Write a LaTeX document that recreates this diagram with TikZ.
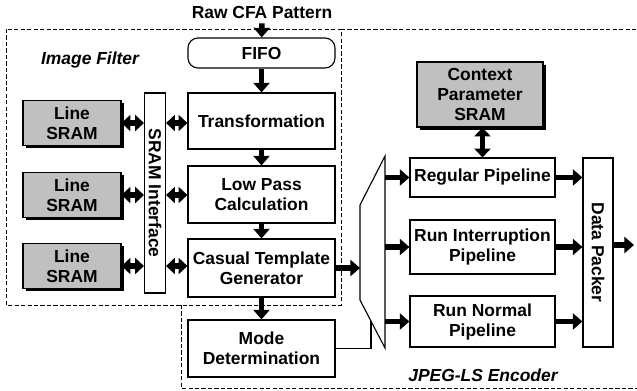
\documentclass[tikz,border=0pt]{standalone}
\usepackage{fontspec}
\setmainfont{Liberation Sans}
\usetikzlibrary{arrows.meta,shadows}

\definecolor{sramgray}{RGB}{192,192,192}

\begin{document}
\begin{tikzpicture}[x=0.025cm, y=-0.025cm, line width=0.8pt,
        font=\fontsize{12.4}{14.2}\selectfont\bfseries,
        blk/.style={draw, fill=white, align=center, inner sep=0pt,
            minimum width=3.675cm},
        sram/.style={draw, fill=sramgray, align=center, inner sep=0pt,
            drop shadow={shadow xshift=0.07cm, shadow yshift=-0.07cm,
                fill=black, opacity=1}},
        fat/.style={line width=0.14cm,
            -{Triangle[length=0.24cm, width=0.4cm]}},
        fatboth/.style={line width=0.14cm,
            {Triangle[length=0.22cm, width=0.4cm]}-{Triangle[length=0.22cm, width=0.4cm]}},
        region/.style={dash pattern=on 3pt off 1.6pt, line width=0.5pt}]

        \useasboundingbox (0,0) rectangle (637,390);

        % Dashed outlines of the two parts.
        \draw[region] (6,29) rectangle (341,305);
        \draw[region] (341,29) -- (637,29);
        \draw[region] (181,305) -- (181,388) -- (637,388);

        % Corners of the multiplexer.
        \coordinate (mux-nw) at (360,205);
        \coordinate (mux-ne) at (385,156);
        \coordinate (mux-se) at (385,348);
        \coordinate (mux-sw) at (360,300);
        \coordinate (sel) at (371,321);
        \coordinate (out) at (634,245);

        % Labels.
        \node (raw) at (262,12) {Raw CFA Pattern};
        \node (imgf) at (90,60) {\itshape Image Filter};
        \node (enc) at (483,375) {\itshape JPEG-LS Encoder};

        % Image filter blocks.
        \node (fifo) at (261.5,53) [blk, minimum height=0.75cm,
            rounded corners=0.25cm] {FIFO};
        \node (transform) at (261.5,121) [blk, minimum height=1.4cm]
            {Transformation};
        \node (lowpass) at (261.5,194.5) [blk, minimum height=1.425cm]
            {Low Pass\\Calculation};
        \node (casual) at (261.5,268) [blk, minimum height=1.45cm]
            {Casual Template\\Generator};
        \node (mode) at (261.5,348.5) [blk, minimum height=1.425cm]
            {Mode\\Determination};
        \node (sramif) at (155,193) [draw, inner sep=0pt,
            minimum width=0.525cm, minimum height=5cm]
            {\rotatebox{-90}{SRAM Interface}};
        \node (line1) at (72,123) [sram, minimum width=2.45cm,
            minimum height=1.125cm] {Line\\SRAM};
        \node (line2) at (72,195) [sram, minimum width=2.45cm,
            minimum height=1.125cm] {Line\\SRAM};
        \node (line3) at (72,266) [sram, minimum width=2.45cm,
            minimum height=1.125cm] {Line\\SRAM};

        % Encoder blocks.
        \node (ctx) at (480,94.5) [sram, minimum width=3.15cm,
            minimum height=1.625cm] {Context\\Parameter\\SRAM};
        \node (regular) at (482.5,177.5) [blk, minimum width=3.625cm,
            minimum height=0.975cm] {Regular Pipeline};
        \node (runint) at (482.5,247) [blk, minimum width=3.625cm,
            minimum height=1.35cm] {Run Interruption\\Pipeline};
        \node (runnorm) at (482.5,321.5) [blk, minimum width=3.625cm,
            minimum height=1.275cm] {Run Normal\\Pipeline};
        \node (packer) at (598,252.5) [draw, inner sep=0pt,
            minimum width=0.75cm, minimum height=4.725cm]
            {\rotatebox{-90}{Data Packer}};

        % Multiplexer.
        \draw (mux-nw) -- (mux-ne) -- (mux-se) -- (mux-sw) -- cycle;

        % Data path.
        \draw[fat] (raw) -- (fifo);
        \draw[fat] (fifo) -- (transform);
        \draw[fat] (transform) -- (lowpass);
        \draw[fat] (lowpass) -- (casual);
        \draw[fat] (casual) -- (mode);
        \draw[fat] (casual.east) -- (casual.east -| mux-nw);
        \draw (mode.east) -| (sel);
        \draw[fat] (regular.west -| mux-ne) -- (regular.west);
        \draw[fat] (runint.west -| mux-ne) -- (runint.west);
        \draw[fat] (runnorm.west -| mux-ne) -- (runnorm.west);
        \draw[fat] (regular.east) -- (regular.east -| packer.west);
        \draw[fat] (runint.east) -- (runint.east -| packer.west);
        \draw[fat] (runnorm.east) -- (runnorm.east -| packer.west);
        \draw[fat] (packer.east |- out) -- (out);

        % Memory accesses.
        \draw[fatboth] (line1.east) -- (line1.east -| sramif.west);
        \draw[fatboth] (line2.east) -- (line2.east -| sramif.west);
        \draw[fatboth] (line3.east) -- (line3.east -| sramif.west);
        \draw[fatboth] (sramif.east |- line1.east) -- (line1.east -| transform.west);
        \draw[fatboth] (sramif.east |- line2.east) -- (line2.east -| lowpass.west);
        \draw[fatboth] (sramif.east |- line3.east) -- (line3.east -| casual.west);
        \draw[fatboth] (regular.north |- ctx.south) -- (regular.north);
    \end{tikzpicture}
\end{document}
